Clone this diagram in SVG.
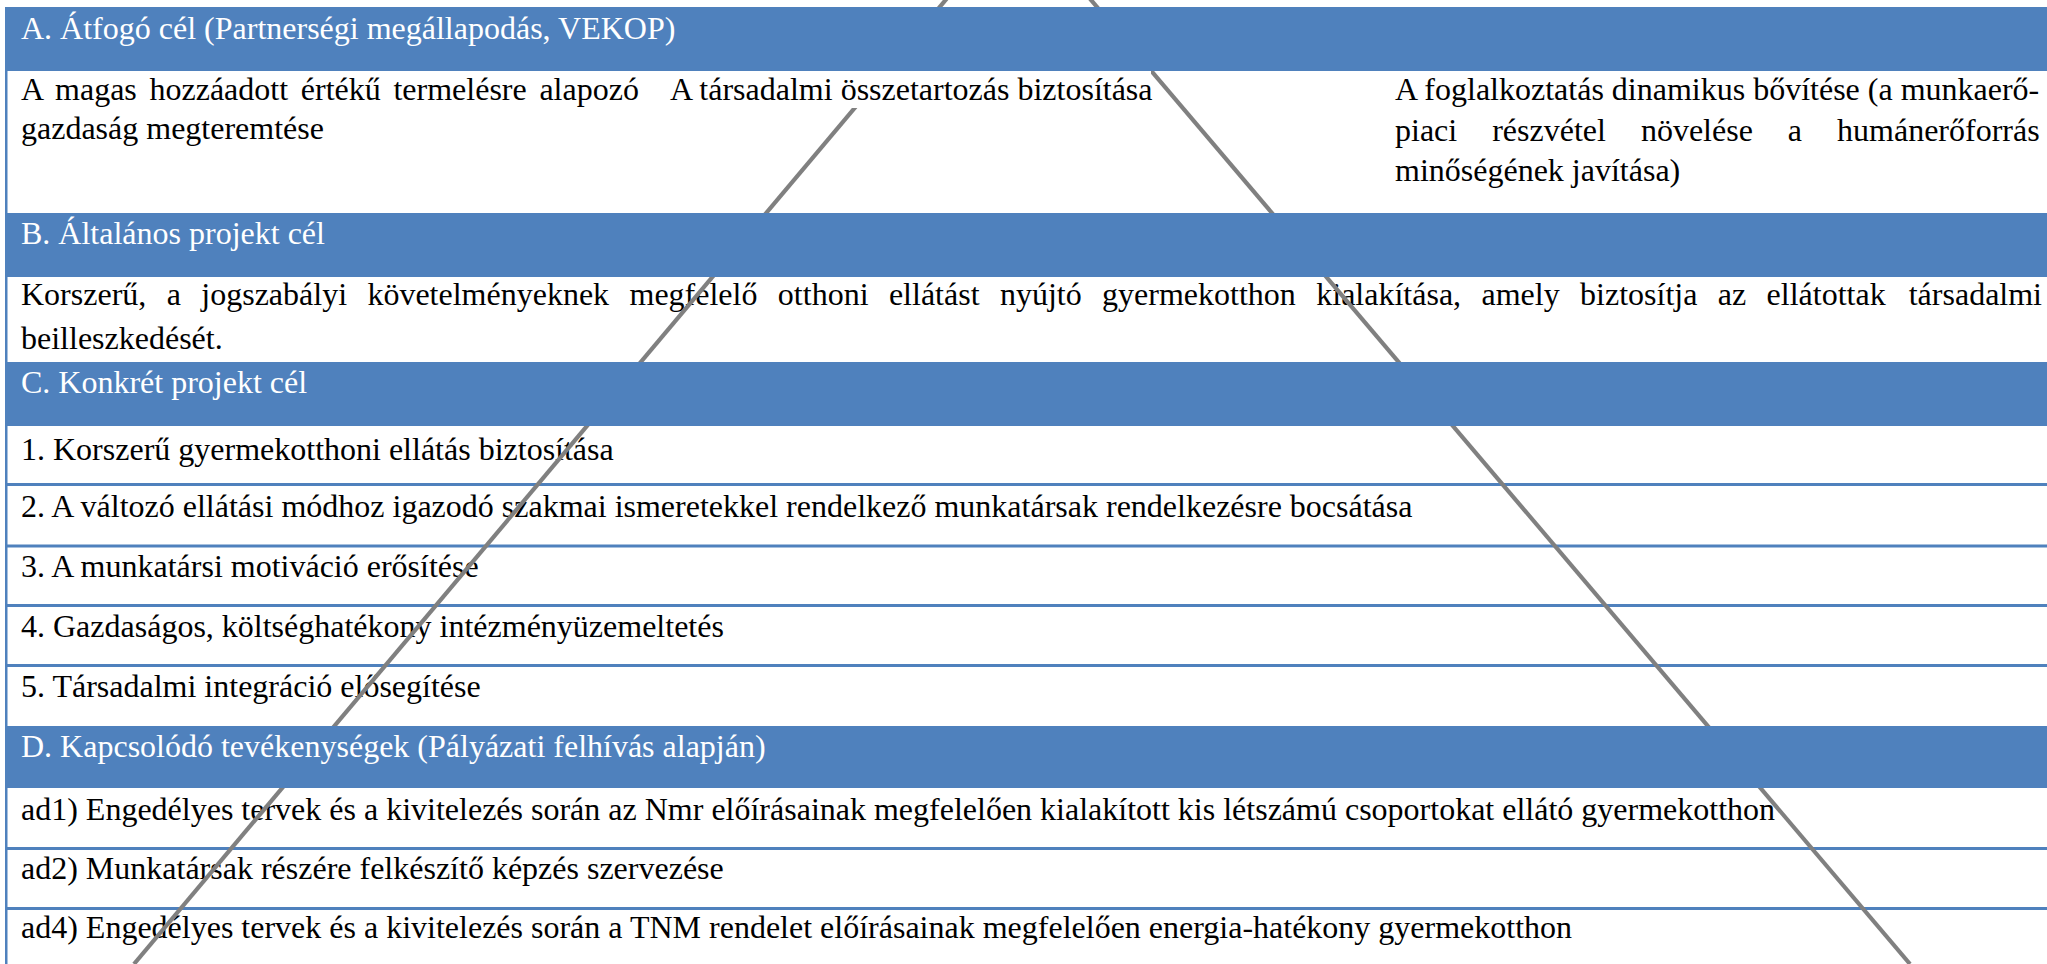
<svg xmlns="http://www.w3.org/2000/svg" width="2047" height="964" viewBox="0 0 2047 964">
<style>
.t{font-family:"Liberation Serif","Times New Roman",serif;font-size:32px;fill:#000}
.h{font-family:"Liberation Serif","Times New Roman",serif;font-size:32px;fill:#fff}
.hb{fill:#4F81BD}
.sep{stroke:#4F81BD;stroke-width:3}
.tri{stroke:#808080;stroke-width:4.2;fill:none}
</style>
<rect width="2047" height="964" fill="#fff"/>
<g id="grid">
<rect x="5" y="7" width="2.5" height="957" fill="#4F81BD"/>
<line class="sep" x1="5" y1="484.5" x2="2047" y2="484.5"/>
<line class="sep" x1="5" y1="546" x2="2047" y2="546"/>
<line class="sep" x1="5" y1="605.5" x2="2047" y2="605.5"/>
<line class="sep" x1="5" y1="665.5" x2="2047" y2="665.5"/>
<line class="sep" x1="5" y1="848.5" x2="2047" y2="848.5"/>
<line class="sep" x1="5" y1="908.5" x2="2047" y2="908.5"/>
</g>
<g id="rowA-col1">
<text class="t" x="21" y="100" style="word-spacing:4.7px">A magas hozzáadott értékű termelésre alapozó</text>
<text class="t" x="21" y="139">gazdaság megteremtése</text>
</g>
<g id="rowA-col3">
<text class="t" x="1395" y="100">A foglalkoztatás dinamikus bővítése (a munkaerő-</text>
<text class="t" x="1395" y="140.5" style="word-spacing:27px">piaci részvétel növelése a humánerőforrás</text>
<text class="t" x="1395" y="181">minőségének javítása)</text>
</g>
<g id="rowB">
<text class="t" x="21" y="305"><tspan style="word-spacing:12.4px">Korszerű, a jogszabályi követelményeknek megfelelő otthoni ellátást nyújtó gyermekotthon kialakítása, amely biztosítja az ellátottak</tspan><tspan x="2042" text-anchor="end">társadalmi</tspan></text>
<text class="t" x="21" y="349">beilleszkedését.</text>
</g>
<g id="rowC1"><text class="t" x="21" y="460">1. Korszerű gyermekotthoni ellátás biztosítása</text></g>
<g id="rowC2"><text class="t" x="21" y="517">2. A változó ellátási módhoz igazodó szakmai ismeretekkel rendelkező munkatársak rendelkezésre bocsátása</text></g>
<g id="rowC3"><text class="t" x="21" y="577">3. A munkatársi motiváció erősítése</text></g>
<g id="rowC4"><text class="t" x="21" y="637">4. Gazdaságos, költséghatékony intézményüzemeltetés</text></g>
<g id="rowC5"><text class="t" x="21" y="697">5. Társadalmi integráció elősegítése</text></g>
<g id="rowD1"><text class="t" x="21" y="820">ad1) Engedélyes tervek és a kivitelezés során az Nmr előírásainak megfelelően kialakított kis létszámú csoportokat ellátó gyermekotthon</text></g>
<g id="rowD2"><text class="t" x="21" y="879">ad2) Munkatársak részére felkészítő képzés szervezése</text></g>
<g id="rowD4"><text class="t" x="21" y="938">ad4) Engedélyes tervek és a kivitelezés során a TNM rendelet előírásainak megfelelően energia-hatékony gyermekotthon</text></g>
<g id="connectors">
<line class="tri" x1="1018" y1="-86" x2="134" y2="964"/>
<line class="tri" x1="1018" y1="-86" x2="1910" y2="964"/>
</g>
<g id="rowA-col2">
<rect x="664" y="71" width="487" height="37" fill="#fff"/>
<text class="t" x="670" y="100">A társadalmi összetartozás biztosítása</text>
</g>
<g id="headerA"><rect class="hb" x="5" y="7" width="2042" height="64"/><text class="h" x="21" y="39">A. Átfogó cél (Partnerségi megállapodás, VEKOP)</text></g>
<g id="headerB"><rect class="hb" x="5" y="213" width="2042" height="64"/><text class="h" x="21" y="244">B. Általános projekt cél</text></g>
<g id="headerC"><rect class="hb" x="5" y="362" width="2042" height="64"/><text class="h" x="21" y="393">C. Konkrét projekt cél</text></g>
<g id="headerD"><rect class="hb" x="5" y="726" width="2042" height="62"/><text class="h" x="21" y="757">D. Kapcsolódó tevékenységek (Pályázati felhívás alapján)</text></g>
</svg>
